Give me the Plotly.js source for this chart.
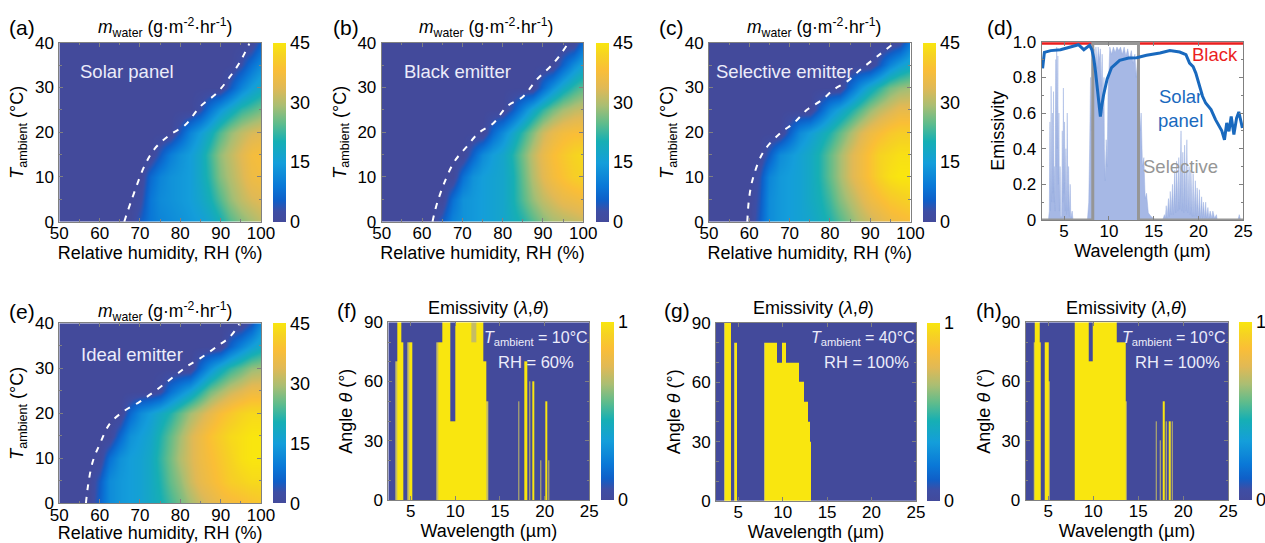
<!DOCTYPE html>
<html><head><meta charset="utf-8">
<script src="https://cdn.plot.ly/plotly-3.0.1.min.js"></script>
<style>html,body{margin:0;padding:0;background:#fff;}#chart{width:1265px;height:543px;}</style>
</head><body><div id="chart"></div>
<script>
// ---------------- DATA ----------------
const RH = [50,52.5,55,57.5,60,62.5,65,67.5,70,72.5,75,77.5,80,82.5,85,87.5,90,92.5,95,97.5,100];
const T_AMB = [0,5,10,15,20,25,30,35,40];

const M_SOLAR = [
 [0,0,0,0,0,0,0,0,5,9,11,12,13,14,15,17,20,24,27,29,31],
 [0,0,0,0,0,0,0,0,2,9,12,13,14,15,17,20,24,28,31,33,34],
 [0,0,0,0,0,0,0,0,0,7,11,13,14,15,18,22,27,30,33,36,37],
 [0,0,0,0,0,0,0,0,0,0,5,10,13,15,18,23,28,31,34,37,38],
 [0,0,0,0,0,0,0,0,0,0,0,0,5,11,15,19,24,28,31,33,34],
 [0,0,0,0,0,0,0,0,0,0,0,0,0,0,3,9,14,18,22,24,26],
 [0,0,0,0,0,0,0,0,0,0,0,0,0,0,0,0,0,5,11,15,18],
 [0,0,0,0,0,0,0,0,0,0,0,0,0,0,0,0,0,0,3,8,12],
 [0,0,0,0,0,0,0,0,0,0,0,0,0,0,0,0,0,0,0,0,6]];
const M_BLACK = [
 [0,0,0,0,0,0,5,11,13,14,15,16,17,19,21,24,27,29,30,31,32],
 [0,0,0,0,0,0,0,8,13,14,15,16,17,20,24,28,31,33,35,36,37],
 [0,0,0,0,0,0,0,0,8,13,15,16,17,20,25,30,34,37,39,41,42],
 [0,0,0,0,0,0,0,0,0,6,12,15,17,21,26,31,35,38,40,42,43],
 [0,0,0,0,0,0,0,0,0,0,0,7,12,17,22,27,32,35,37,38,38],
 [0,0,0,0,0,0,0,0,0,0,0,0,0,5,11,17,22,26,29,31,32],
 [0,0,0,0,0,0,0,0,0,0,0,0,0,0,0,0,7,13,18,22,25],
 [0,0,0,0,0,0,0,0,0,0,0,0,0,0,0,0,0,0,6,12,16],
 [0,0,0,0,0,0,0,0,0,0,0,0,0,0,0,0,0,0,0,0,8]];
const M_SELECTIVE = [
 [0,0,0,0,0,5,12,14,15,16,17,19,21,24,27,30,32,34,36,37,38],
 [0,0,0,0,0,4,12,14,15,16,18,20,23,27,30,33,36,38,40,41,42],
 [0,0,0,0,0,3,11,14,15,16,18,21,25,29,33,36,39,42,44,45,45],
 [0,0,0,0,0,0,5,12,14,16,18,21,25,29,33,36,39,42,43,44,44],
 [0,0,0,0,0,0,0,0,6,12,15,18,21,25,29,33,36,38,40,41,41],
 [0,0,0,0,0,0,0,0,0,0,0,6,12,16,20,24,28,31,33,35,35],
 [0,0,0,0,0,0,0,0,0,0,0,0,0,0,7,13,18,22,26,28,29],
 [0,0,0,0,0,0,0,0,0,0,0,0,0,0,0,0,0,5,11,15,18],
 [0,0,0,0,0,0,0,0,0,0,0,0,0,0,0,0,0,0,0,2,10]];
const M_IDEAL = [
 [0,0,0,0,6,12,14,15,16,18,20,23,26,29,32,34,36,37,38,39,40],
 [0,0,0,0,5,12,14,15,16,18,21,25,28,32,35,37,39,41,42,43,43],
 [0,0,0,0,0,8,13,15,16,18,22,26,30,33,36,38,40,42,44,45,45],
 [0,0,0,0,0,0,7,13,15,17,21,25,29,33,36,39,41,43,44,45,45],
 [0,0,0,0,0,0,0,7,12,15,18,21,25,29,32,35,38,40,42,43,43],
 [0,0,0,0,0,0,0,0,0,0,2,8,12,16,21,26,29,32,34,36,36],
 [0,0,0,0,0,0,0,0,0,0,0,0,0,0,7,13,18,22,25,28,29],
 [0,0,0,0,0,0,0,0,0,0,0,0,0,0,0,0,0,6,11,15,18],
 [0,0,0,0,0,0,0,0,0,0,0,0,0,0,0,0,0,0,0,4,12]];

// dashed onset boundaries
const DASH_SOLAR_RH = [66.1,67.9,71.4,74.1,77.4,81.2,84.9,89.0,92.3,94.8,97.1];
const DASH_SOLAR_T  = [0,4.8,13.0,16.8,19.4,21.6,25.7,28.7,32.4,35.7,39.8];
const DASH_BLACK_RH = [62.6,64.0,67.8,71.1,74.0,77.7,81.0,85.1,88.4,92.6,96.3];
const DASH_BLACK_T  = [0,4.9,13.1,16.8,19.8,22.0,25.7,28.0,31.7,35.4,39.9];
const DASH_SEL_RH = [59.5,60.0,61.0,63.5,67.7,71.0,74.3,78.0,80.9,84.2,87.6,91.7,95.9];
const DASH_SEL_T  = [0,5.6,10.0,15.6,19.8,22.0,25.0,27.2,29.5,31.3,34.0,36.9,39.9];
const DASH_IDEAL_RH = [56.6,57.2,58.3,60.1,62.6,65.9,70.0,74.1,78.3,81.6,84.9,89.0,92.3,94.6];
const DASH_IDEAL_T  = [0,4.4,9.3,13.3,17.8,20.4,22.6,25.2,28.1,30.4,32.2,34.8,37.0,39.8];

// (d) spectra
const SOLAR_WL = [2.6,2.8,3.5,4.6,5.7,6.6,7.2,7.85,8.1,8.3,8.5,8.7,8.9,9.05,9.2,9.4,9.8,10.3,11.2,12.2,13.1,14.2,15.7,16.8,17.9,18.6,19.0,19.4,19.7,20.1,20.45,20.8,21.4,21.9,22.3,22.6,22.9,23.15,23.4,23.65,23.95,24.25,24.5,24.9];
const SOLAR_EM = [0.85,0.94,0.95,0.955,0.97,0.983,0.955,0.98,0.955,0.91,0.834,0.73,0.63,0.58,0.64,0.70,0.79,0.855,0.895,0.908,0.91,0.924,0.937,0.95,0.942,0.927,0.88,0.86,0.824,0.759,0.694,0.656,0.619,0.563,0.525,0.5,0.45,0.544,0.497,0.581,0.479,0.572,0.606,0.516];
const BLACK_WL = [2.5,25];
const BLACK_EM = [0.99,0.99];
const SELECT_WL = [2.5,8.2,8.2,13.3,13.3,25];
const SELECT_EM = [0,0,0.99,0.99,0,0];
const ATM_WL = [2.5,3.25,3.35,3.42,3.48,3.55,3.62,3.7,3.76,3.82,3.88,3.95,4.0,4.07,4.12,4.17,4.23,4.3,4.36,4.42,4.48,4.55,4.62,4.72,4.8,4.86,4.92,4.98,5.05,5.12,5.2,5.27,5.35,5.42,5.5,5.58,5.68,5.75,5.9,6.0,
  7.6,7.75,7.85,7.95,8.05,8.15,8.25,8.35,8.45,8.55,8.7,8.8,8.95,9.05,9.15,9.25,9.35,9.45,9.5,9.6,9.7,9.8,9.9,10.0,10.1,10.3,10.5,10.7,10.9,11.1,11.3,11.5,11.7,11.9,12.1,12.3,12.5,12.7,12.9,13.05,13.2,13.35,13.5,13.6,13.75,13.9,14.05,14.2,14.4,14.7,15.2,
  16.0,16.2,16.3,16.4,16.5,16.65,16.75,16.85,16.95,17.1,17.2,17.35,17.45,17.55,17.7,17.8,17.9,18.05,18.15,18.25,18.35,18.45,18.6,18.7,18.8,18.95,19.05,19.15,19.3,19.4,19.5,19.65,19.75,19.85,20.0,20.1,20.2,20.35,20.45,20.55,20.7,20.8,20.9,21.05,21.15,21.3,21.5,21.6,21.8,22.0,22.1,22.4,24.4,24.55,24.7,25];
const ATM_EM = [0,0,0.05,0.55,0.05,0.75,0.1,0.6,0.15,0.72,0.1,0.3,0.05,0.9,0.3,0.97,0.4,0.92,0.2,0.6,0.05,0.3,0.02,0.02,0.5,0.1,0.74,0.15,0.55,0.05,0.4,0.03,0.6,0.05,0.3,0.02,0.2,0.01,0.05,0,
  0,0.1,0.4,0.8,0.5,0.92,0.7,0.96,0.8,0.97,0.85,0.97,0.9,0.96,0.75,0.93,0.6,0.8,0.4,0.22,0.45,0.3,0.7,0.9,0.97,0.93,0.97,0.94,0.97,0.95,0.97,0.93,0.97,0.92,0.96,0.9,0.95,0.88,0.93,0.8,0.9,0.7,0.5,0.6,0.3,0.35,0.12,0.15,0.04,0.02,0,
  0,0.03,0.01,0.08,0.01,0.12,0.02,0.16,0.03,0.2,0.03,0.28,0.04,0.33,0.05,0.35,0.06,0.5,0.05,0.38,0.04,0.42,0.05,0.45,0.04,0.3,0.03,0.28,0.02,0.26,0.02,0.22,0.02,0.18,0.01,0.17,0.01,0.13,0.01,0.1,0.01,0.1,0.01,0.07,0.01,0.05,0.01,0.05,0.01,0.03,0,0,0,0.03,0,0];

// (f)-(h) emissivity bands: wavelength start/end (µm), max angle (deg), level
const ANGLE_EDGES = [0,10,20,30,40,50,60,70,80,90];
const WL_RANGE = [2.5,25];
const F_START = [3.30,3.50,3.95,4.65,4.80,7.85,8.05,8.50,9.40,9.95,11.8,11.8,12.4,13.1,13.5,17.05,17.7,18.3,18.6,19.5,20.1,20.4];
const F_END   = [3.50,3.95,4.20,4.80,5.15,8.05,8.50,9.40,9.95,11.8,12.4,12.4,13.1,13.5,13.7,17.2,18.1,18.4,18.8,19.6,20.3,20.5];
const F_TOP   = [70,90,80,80,80,80,80,90,40,90,80,90,90,70,50,50,70,60,60,20,50,20];
const F_LEVEL = [0.7,1,1,0.7,1,0.7,1,1,1,1,1,0.7,1,1,0.7,0.7,1,0.7,1,0.7,1,0.7];
const G_START = [3.40,3.50,4.55,4.65,7.90,8.05,9.35,9.90,10.35,11.80,12.45,12.90,13.05];
const G_END   = [3.50,4.20,4.65,4.90,8.05,9.35,9.90,10.35,11.80,12.45,12.90,13.05,13.20];
const G_TOP   = [90,90,80,80,80,80,70,80,70,60,50,40,30];
const G_LEVEL = [0.7,1,0.7,1,0.7,1,1,1,1,1,1,1,1];
const H_START = [3.35,3.50,4.00,4.60,5.10,7.95,8.45,9.45,9.95,12.60,13.10,13.55,16.95,17.35,17.75,18.05,18.40,18.70];
const H_END   = [3.50,4.00,4.20,5.10,5.20,8.45,9.45,9.95,12.60,13.10,13.55,13.70,17.05,17.45,17.90,18.15,18.55,18.80];
const H_TOP   = [80,90,80,80,60,90,90,70,90,80,80,50,40,30,50,40,40,40];
const H_LEVEL = [0.7,1,1,1,0.7,1,1,1,1,1,1,0.7,0.7,0.7,1,0.7,1,0.7];

// ---------------- STYLE / LAYOUT ----------------
const W = 1265, H = 543;
const FONT = 'Liberation Sans, Arial, Helvetica, sans-serif';
const GRAY = 'rgb(128,128,128)';
const CSCALE = [
 [0,'rgb(67,74,155)'],[0.06,'rgb(62,78,165)'],[0.12,'rgb(15,95,200)'],[0.2,'rgb(10,120,215)'],
 [0.33,'rgb(20,158,218)'],[0.45,'rgb(22,175,180)'],[0.55,'rgb(95,188,140)'],[0.65,'rgb(170,190,115)'],
 [0.75,'rgb(225,185,85)'],[0.85,'rgb(250,190,55)'],[0.93,'rgb(246,210,35)'],[1,'rgb(249,230,15)']];

const dx = (a,b) => [a/W, b/W];
const dy = (t,b) => [1-b/H, 1-t/H];

function axis(dom, range, extra){
  return Object.assign({domain:dom, range:range, showline:true, linecolor:GRAY, linewidth:1,
    mirror:'allticks', ticks:'inside', ticklen:4, tickwidth:1, tickcolor:GRAY, showgrid:false,
    zeroline:false, tickfont:{size:17, color:'#000'}, fixedrange:true, automargin:false}, extra);
}
function cbar(xpx, top, bot, tv){
  return {x:xpx/W, xanchor:'left', y:1-bot/H, yanchor:'bottom', len:(bot-top)/H, lenmode:'fraction',
    thickness:12.5, thicknessmode:'pixels', xpad:0, ypad:0, outlinewidth:0, tickvals:tv,
    ticks:'', tickfont:{size:18, color:'#000'}};
}
function bandGrid(st, en, top, lev){
  const edges = Array.from(new Set([WL_RANGE[0], WL_RANGE[1], ...st, ...en])).sort((a,b)=>a-b);
  const z = [];
  for (let r=0; r<ANGLE_EDGES.length-1; r++){
    const a1 = ANGLE_EDGES[r+1], row = [];
    for (let c=0; c<edges.length-1; c++){
      const m = (edges[c]+edges[c+1])/2; let v = 0;
      for (let k=0; k<st.length; k++) if (m>st[k] && m<en[k] && top[k] >= a1-1e-9) v = Math.max(v, lev[k]);
      row.push(v);
    }
    z.push(row);
  }
  return {x:edges, y:ANGLE_EDGES, z:z};
}

const traces = [];
const mPanels = [
  {z:M_SOLAR, dx:DASH_SOLAR_RH, dy:DASH_SOLAR_T, ax:'', cb:272.7, top:42.7, bot:221.7},
  {z:M_BLACK, dx:DASH_BLACK_RH, dy:DASH_BLACK_T, ax:'2', cb:596, top:42.7, bot:221.7},
  {z:M_SELECTIVE, dx:DASH_SEL_RH, dy:DASH_SEL_T, ax:'3', cb:922.7, top:42.7, bot:221.7},
  {z:M_IDEAL, dx:DASH_IDEAL_RH, dy:DASH_IDEAL_T, ax:'5', cb:272.7, top:323.3, bot:503.3}];
mPanels.forEach(p => {
  traces.push({type:'heatmap', x:RH, y:T_AMB, z:p.z, zmin:0, zmax:45, zsmooth:'best', colorscale:CSCALE,
    xaxis:'x'+p.ax, yaxis:'y'+p.ax, hoverinfo:'skip', colorbar:cbar(p.cb, p.top, p.bot, [0,15,30,45])});
  traces.push({type:'scatter', mode:'lines', x:p.dx, y:p.dy, xaxis:'x'+p.ax, yaxis:'y'+p.ax,
    line:{color:'white', width:2, dash:'6px,7px', shape:'spline'}, hoverinfo:'skip'});
});

// (d)
traces.push({type:'scatter', mode:'lines', x:ATM_WL, y:ATM_EM, xaxis:'x4', yaxis:'y4', fill:'tozeroy',
  fillcolor:'rgba(150,172,225,0.85)', line:{color:'rgba(150,172,225,0.9)', width:0.5}, hoverinfo:'skip'});
traces.push({type:'scatter', mode:'lines', x:BLACK_WL, y:BLACK_EM, xaxis:'x4', yaxis:'y4',
  line:{color:'rgb(235,30,30)', width:2.5}, hoverinfo:'skip'});
traces.push({type:'scatter', mode:'lines', x:SELECT_WL, y:SELECT_EM, xaxis:'x4', yaxis:'y4',
  line:{color:'rgb(150,150,150)', width:3}, hoverinfo:'skip'});
traces.push({type:'scatter', mode:'lines', x:SOLAR_WL, y:SOLAR_EM, xaxis:'x4', yaxis:'y4',
  line:{color:'rgb(25,105,190)', width:3}, hoverinfo:'skip'});

// (f)-(h)
const ePanels = [
  {g:bandGrid(F_START,F_END,F_TOP,F_LEVEL), ax:'6', cb:601, top:322.3, bot:500},
  {g:bandGrid(G_START,G_END,G_TOP,G_LEVEL), ax:'7', cb:927.3, top:322.7, bot:501},
  {g:bandGrid(H_START,H_END,H_TOP,H_LEVEL), ax:'8', cb:1239.3, top:322.3, bot:500}];
ePanels.forEach(p => {
  traces.push({type:'heatmap', x:p.g.x, y:p.g.y, z:p.g.z, zmin:0, zmax:1, colorscale:CSCALE,
    xaxis:'x'+p.ax, yaxis:'y'+p.ax, hoverinfo:'skip', colorbar:cbar(p.cb, p.top, p.bot, [0,1])});
});

const tF = {size:18, color:'#000'};
const XLS = -4;
const rhX = (dom, anchor) => axis(dom, [50,100], {anchor:anchor, tick0:50, dtick:10, ticklabelstandoff:XLS,
  minor:{ticks:'inside', ticklen:2.5, dtick:5, tickcolor:GRAY},
  title:{text:'Relative humidity, RH (%)', font:tF, standoff:2}});
const tY = (dom, anchor) => axis(dom, [0,40], {anchor:anchor, tick0:0, dtick:10, ticklabelstandoff:1,
  minor:{ticks:'inside', ticklen:2.5, dtick:5, tickcolor:GRAY},
  title:{text:'<i>T</i><sub>ambient</sub> (°C)', font:tF, standoff:6}});
const wlX = (dom, anchor) => axis(dom, [2.5,25], {anchor:anchor, tickvals:[5,10,15,20,25], ticklabelstandoff:XLS,
  title:{text:'Wavelength (µm)', font:tF, standoff:2}});
const angY = (dom, anchor) => axis(dom, [0,90], {anchor:anchor, tickvals:[0,30,60,90], ticklabelstandoff:1,
  minor:{ticks:'inside', ticklen:2.5, dtick:10, tickcolor:GRAY},
  title:{text:'Angle <i>θ</i> (°)', font:tF, standoff:6}});

function ann(text, xpx, ypx, size, color, xanchor){
  return {text:text, xref:'paper', yref:'paper', x:xpx/W, y:1-ypx/H, showarrow:false,
    xanchor:xanchor||'center', yanchor:'middle', font:{size:size, color:color||'#000'}};
}
const MT = '<i>m</i><sub>water</sub> (g·m<sup>-2</sup>·hr<sup>-1</sup>)';
const ET = 'Emissivity (<i>λ</i>,<i>θ</i>)';
const IN = 'rgb(236,236,250)';
const annotations = [
  ann('(a)',21.5,28,21), ann('(b)',345.5,28,21), ann('(c)',671,28,21), ann('(d)',1000,28,21),
  ann('(e)',22,311,21), ann('(f)',347,310,21), ann('(g)',676.5,310,21), ann('(h)',988.5,310,21),
  ann(MT,165,28,17.5), ann(MT,486,28,17.5), ann(MT,814,28,17.5), ann(MT,165,311,17.5),
  ann(ET,488,308,18), ann(ET,814,308,18), ann(ET,1126.5,308,18),
  ann('Solar panel',77.7,71.7,18.5,IN,'left'), ann('Black emitter',401.7,71.7,18.5,IN,'left'),
  ann('Selective emitter',714,71.7,18.5,IN,'left'), ann('Ideal emitter',79.3,354,18.5,IN,'left'),
  ann('<i>T</i><sub>ambient</sub> = 10°C',536,338,16,IN), ann('RH = 60%',536,362,16.5,IN),
  ann('<i>T</i><sub>ambient</sub> = 40°C',863,338,16,IN), ann('RH = 100%',866,362,16.5,IN),
  ann('<i>T</i><sub>ambient</sub> = 10°C',1174,338,16,IN), ann('RH = 100%',1177,362,16.5,IN),
  ann('Black',1215,55,18.5,'rgb(235,30,30)'), ann('Solar<br>panel',1180,108.5,18.5,'rgb(25,105,190)'),
  ann('Selective',1180,166.7,18.5,'rgb(150,150,150)')
];

const layout = {
  width:W, height:H, margin:{l:0,r:0,t:0,b:0}, showlegend:false,
  paper_bgcolor:'#fff', plot_bgcolor:'#fff', font:{family:FONT, color:'#000'},
  xaxis: rhX(dx(59.3,261),'y'),        yaxis: tY(dy(42.7,221.7),'x'),
  xaxis2: rhX(dx(381.7,583.3),'y2'),   yaxis2: tY(dy(42.7,221.7),'x2'),
  xaxis3: rhX(dx(709,910.5),'y3'),     yaxis3: tY(dy(42.7,221.7),'x3'),
  xaxis4: wlX(dx(1041.7,1243.3),'y4'),
  yaxis4: axis(dy(41.7,220),[0,1],{anchor:'x4', tickvals:[0,0.2,0.4,0.6,0.8,1], ticktext:['0','0.2','0.4','0.6','0.8','1.0'],
     ticklabelstandoff:1, minor:{ticks:'inside', ticklen:2.5, dtick:0.1, tickcolor:GRAY}, title:{text:'Emissivity', font:tF, standoff:3}}),
  xaxis5: rhX(dx(59.3,261),'y5'),      yaxis5: tY(dy(323.3,503.3),'x5'),
  xaxis6: wlX(dx(388.3,589.3),'y6'),   yaxis6: angY(dy(322.3,500),'x6'),
  xaxis7: wlX(dx(716,916),'y7'),       yaxis7: angY(dy(322.7,501),'x7'),
  xaxis8: wlX(dx(1025.7,1228.3),'y8'), yaxis8: angY(dy(322.3,500),'x8'),
  annotations: annotations
};
Plotly.newPlot('chart', traces, layout, {staticPlot:true, displayModeBar:false});
</script></body></html>
